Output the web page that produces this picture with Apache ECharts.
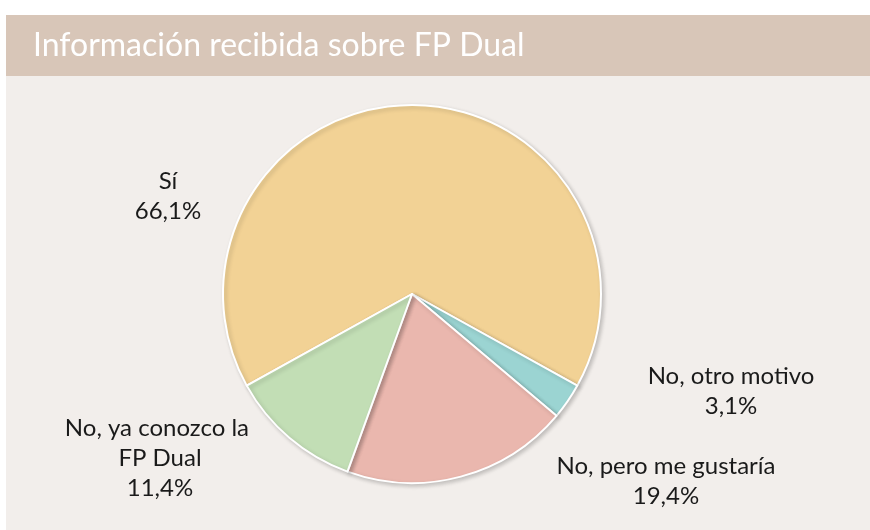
<!DOCTYPE html>
<html style="height: 100%; margin: 0">
<head>
<meta charset="UTF-8">
<title>Información recibida sobre FP Dual</title>
</head>
<body style="height: 100%; margin: 0; background: #fff">
<div id="container" style="width:870px; height:530px"></div>
<script type="text/javascript" src="https://cdn.jsdelivr.net/npm/echarts@6/dist/echarts.min.js"></script>
<script type="text/javascript">
	// datos
	var categorias = ['Sí', 'No, otro motivo', 'No, pero me gustaría', 'No, ya conozco la FP Dual'];
	var valores = [66.1, 3.1, 19.4, 11.4];
	var colores = ['#f2d295', '#9bd4d2', '#eab7ae', '#c2deb5'];
	// posicion del centro de cada etiqueta
	var posEtiquetas = [[168, 196], [731, 391], [666, 481], [160, 458]];

	var datos = [];
	for (var i = 0; i < categorias.length; i++) {
		datos.push({
			name: categorias[i],
			value: valores[i],
			itemStyle: { color: colores[i] },
			label: i === 3 ? { width: 205, overflow: 'break' } : {}
		});
	}

	var dom = document.getElementById("container");
	var myChart = echarts.init(dom);
	var option = {
		backgroundColor: '#ffffff',
		animation: false,
		graphic: [
			{
				type: 'rect',
				z: -10,
				shape: { x: 6, y: 15, width: 864, height: 515 },
				style: { fill: '#f2eeeb' }
			},
			{
				type: 'rect',
				z: -9,
				shape: { x: 6, y: 15, width: 864, height: 61 },
				style: { fill: '#d8c6b8' }
			}
		],
		title: {
			text: 'Información recibida sobre FP Dual',
			left: 28,
			top: 25,
			textStyle: {
				color: '#ffffff',
				fontFamily: 'Lato',
				fontWeight: 'normal',
				fontSize: 32
			}
		},
		series: [
			{
				type: 'pie',
				center: [412, 294],
				radius: 189,
				startAngle: 209,
				clockwise: true,
				data: datos,
				itemStyle: {
					borderColor: '#ffffff',
					borderWidth: 2,
					shadowBlur: 4,
					shadowColor: 'rgba(0,0,0,0.2)',
					shadowOffsetX: 2,
					shadowOffsetY: 2
				},
				emphasis: { disabled: true },
				labelLine: { show: false },
				label: {
					show: true,
					position: 'outside',
					color: '#1a1a1a',
					fontFamily: 'Lato',
					fontSize: 24,
					lineHeight: 30,
					align: 'center',
					formatter: function (p) {
						return p.name + '\n' + p.value.toFixed(1).replace('.', ',') + '%';
					}
				},
				labelLayout: function (params) {
					var pos = posEtiquetas[params.dataIndex];
					return {
						x: pos[0],
						y: pos[1],
						align: 'center',
						verticalAlign: 'middle'
					};
				}
			}
		]
	};
	myChart.setOption(option, true);
</script>
</body>
</html>
